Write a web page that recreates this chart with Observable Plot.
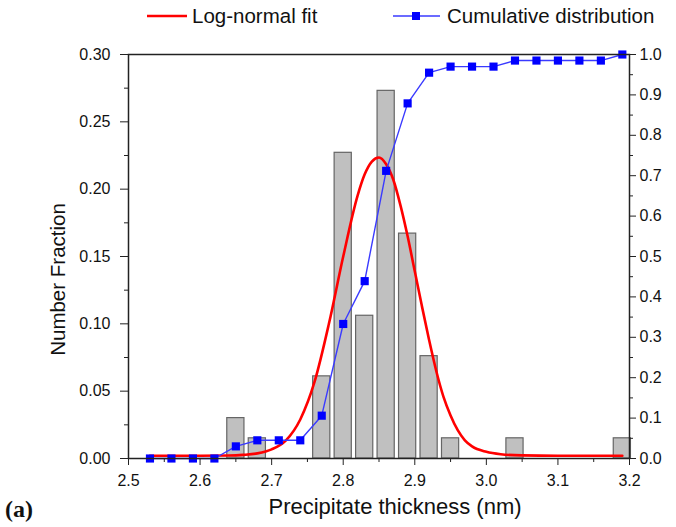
<!DOCTYPE html>
<html>
<head>
<meta charset="utf-8">
<script src="https://cdn.jsdelivr.net/npm/d3@7"></script>
<script src="https://cdn.jsdelivr.net/npm/@observablehq/plot@0.6"></script>
<style>
  html, body { margin: 0; padding: 0; background: #fff; }
  #wrap { position: relative; width: 676px; height: 527px; font-family: "Liberation Sans", Arial, sans-serif; color: #111; }
  #legend { position: relative; height: 35px; }
  .lg { position: absolute; font-size: 20.5px; line-height: 21px; top: 5px; white-space: nowrap; }
  #tag { position: absolute; left: 5px; top: 496px; font-family: "Liberation Serif", "Times New Roman", serif; font-weight: bold; font-size: 24px; }
</style>
</head>
<body>
<div id="wrap">
  <div id="legend">
    <svg style="position:absolute;left:0;top:0" width="676" height="35">
      <line x1="147" x2="187" y1="16" y2="16" stroke="#ff0000" stroke-width="2.5"></line>
      <line x1="393" x2="440" y1="16" y2="16" stroke="#3a3aff" stroke-width="1.3"></line>
      <rect x="412" y="12" width="8" height="8" fill="#0000ff"></rect>
    </svg>
    <div class="lg" style="left:192px">Log-normal fit</div>
    <div class="lg" style="left:447px">Cumulative distribution</div>
  </div>
  <div id="chart"></div>
  <div id="tag">(a)</div>
</div>
<script>
// Histogram (left axis: Number Fraction)
const binCenters   = [2.65, 2.68, 2.77, 2.80, 2.83, 2.86, 2.89, 2.92, 2.95, 3.04, 3.19];
const binFractions = [0.030, 0.015, 0.061, 0.227, 0.106, 0.273, 0.167, 0.076, 0.015, 0.015, 0.015];

// Cumulative distribution (right axis, 0–1)
const cumX = [2.53, 2.56, 2.59, 2.62, 2.65, 2.68, 2.71, 2.74, 2.77, 2.80, 2.83, 2.86,
              2.89, 2.92, 2.95, 2.98, 3.01, 3.04, 3.07, 3.10, 3.13, 3.16, 3.19];
const cumY = [0, 0, 0, 0, 0.030, 0.045, 0.045, 0.045, 0.106, 0.333, 0.439, 0.712,
              0.879, 0.955, 0.970, 0.970, 0.970, 0.985, 0.985, 0.985, 0.985, 0.985, 1.0];

// Log-normal fit curve (left axis)
const fitX = [2.53, 2.60, 2.64, 2.66, 2.68, 2.70, 2.72, 2.74, 2.76, 2.78, 2.80, 2.82, 2.83,
              2.84, 2.85, 2.86, 2.87, 2.88, 2.89, 2.90, 2.91, 2.92, 2.93, 2.94, 2.95, 2.96,
              2.97, 2.98, 3.00, 3.02, 3.05, 3.10, 3.19];
const fitY = [0.002, 0.002, 0.0022, 0.0027, 0.0038, 0.0068, 0.0135, 0.029, 0.057, 0.100, 0.150, 0.195, 0.211,
              0.2205, 0.2235, 0.2185, 0.207, 0.188, 0.165, 0.139, 0.113, 0.088, 0.065, 0.046, 0.032, 0.021,
              0.0135, 0.009, 0.005, 0.0032, 0.0023, 0.002, 0.002];

// Axis ticks
const xTicks = [2.5, 2.6, 2.7, 2.8, 2.9, 3.0, 3.1, 3.2];
const xMinorTicks = [2.55, 2.65, 2.75, 2.85, 2.95, 3.05, 3.15];
const yTicks = [0, 0.05, 0.10, 0.15, 0.20, 0.25, 0.30];
const yMinorTicks = [0.025, 0.075, 0.125, 0.175, 0.225, 0.275];
const y2Ticks = [0, 0.1, 0.2, 0.3, 0.4, 0.5, 0.6, 0.7, 0.8, 0.9, 1.0];
const y2MinorTicks = [0.05, 0.15, 0.25, 0.35, 0.45, 0.55, 0.65, 0.75, 0.85, 0.95];

const Y2 = 0.30; // right axis 1.0 corresponds to left axis 0.30
const barHalf = 0.012;

const bars = binCenters.map((x, i) => ({x, f: binFractions[i]}));
const cum = cumX.map((x, i) => ({x, c: cumY[i]}));
const fit = fitX.map((x, i) => ({x, y: fitY[i]}));

const chart = Plot.plot({
  width: 676,
  height: 492,
  marginTop: 19,
  marginBottom: 69,
  marginLeft: 128,
  marginRight: 47,
  style: {fontFamily: "Liberation Sans, Arial, sans-serif", fontSize: "16px", color: "#111", background: "#fff"},
  x: {domain: [2.5, 3.2]},
  y: {domain: [0, 0.30]},
  marks: [
    Plot.rectY(bars, {x1: d => d.x - barHalf, x2: d => d.x + barHalf, y1: 0, y2: "f",
      fill: "#c0c0c0", stroke: "#656565", strokeWidth: 1.2}),
    Plot.line(fit, {x: "x", y: "y", stroke: "#ff0000", strokeWidth: 2.6, curve: "monotone-x"}),
    Plot.line(cum, {x: "x", y: d => d.c * Y2, stroke: "#3a3aff", strokeWidth: 1.4}),
    Plot.dot(cum, {x: "x", y: d => d.c * Y2, symbol: "square", r: 4.6, fill: "#0000ff", stroke: "none"}),
    Plot.frame({stroke: "#222", strokeWidth: 1.5}),
    Plot.axisX({ticks: xTicks, tickSize: 7, tickPadding: 9, tickFormat: d3.format(".1f"), label: null, stroke: "#222"}),
    Plot.axisX({ticks: xMinorTicks, tickSize: 4, text: null, label: null, stroke: "#222"}),
    Plot.axisY({ticks: yTicks, tickSize: 8, tickPadding: 10, tickFormat: d3.format(".2f"), label: null, stroke: "#222"}),
    Plot.axisY({ticks: yMinorTicks, tickSize: 4, text: null, label: null, stroke: "#222"}),
    Plot.axisY({anchor: "right", ticks: y2Ticks.map(v => v * Y2), tickSize: 6, tickPadding: 4,
      tickFormat: d => d3.format(".1f")(d / Y2), label: null, stroke: "#222"}),
    Plot.axisY({anchor: "right", ticks: y2MinorTicks.map(v => v * Y2), tickSize: 3, text: null, label: null, stroke: "#222"}),
    Plot.text(["Precipitate thickness (nm)"], {frameAnchor: "bottom", dx: 16, dy: 55, fontSize: 22, fill: "#111"}),
    Plot.text(["Number Fraction"], {frameAnchor: "left", rotate: -90, textAnchor: "middle", dx: -70, dy: 23, fontSize: 20.5, fill: "#111"})
  ]
});
document.getElementById("chart").appendChild(chart);
</script>
</body>
</html>
